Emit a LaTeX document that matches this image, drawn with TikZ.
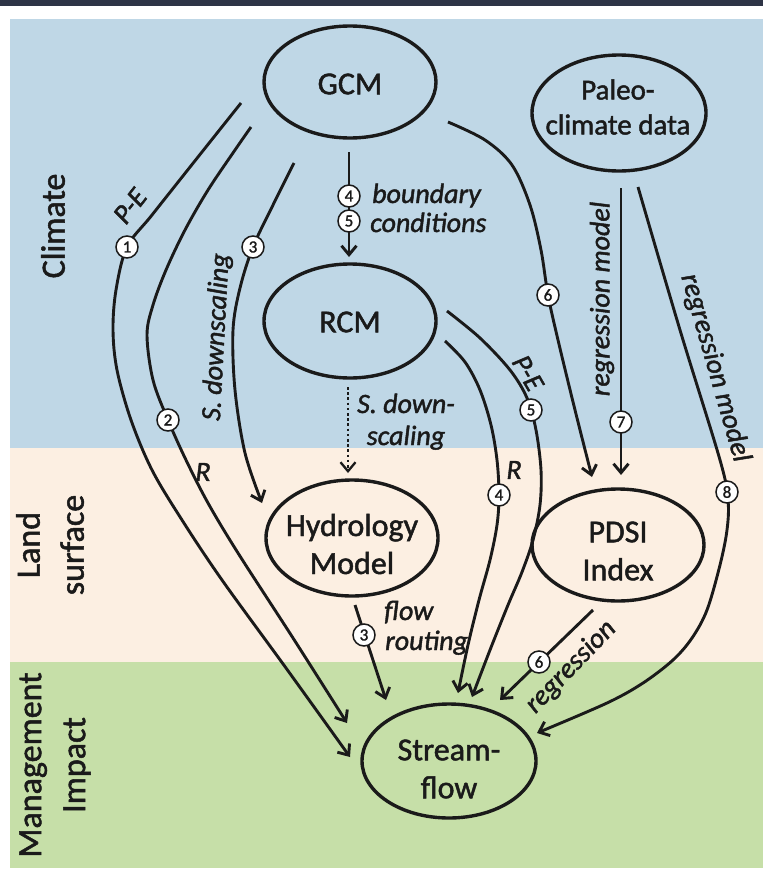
\documentclass[tikz,border=0pt]{standalone}
\usepackage{fontspec}
\setmainfont{Carlito}[UprightFeatures={FakeBold=1.5},ItalicFeatures={FakeBold=1.5}]
\usetikzlibrary{arrows.meta,calc,shapes.geometric}
\definecolor{topbar}{HTML}{2E3446}
\definecolor{climblue}{HTML}{BFD7E6}
\definecolor{landbeige}{HTML}{FCEFE2}
\definecolor{mgmtgreen}{HTML}{C6DFA8}
\definecolor{ink}{HTML}{1A1A1A}
\tikzset{
 ell/.style={ellipse, draw=ink, line width=3.4pt, inner sep=0pt},
 lbl/.style={align=center, inner sep=0pt, text=ink, font=\fontsize{32}{38}\selectfont},
 arr/.style={draw=ink, line width=2.9pt, -{Straight Barb[length=9pt,width=15pt]}},
 num/.style={circle, draw=ink, line width=1.5pt, fill=white, minimum size=22pt, inner sep=0pt, text=ink, font=\fontsize{17}{17}\selectfont},
 elab/.style={font=\fontsize{28}{32}\selectfont\itshape, inner sep=0pt, text=ink},
 side/.style={font=\fontsize{34}{44}\selectfont, align=center, rotate=90, inner sep=0pt, text=ink},
}
\begin{document}
\begin{tikzpicture}[x=1pt,y=-1pt]
\useasboundingbox (0,0) rectangle (763,870);
\fill[white] (0,0) rectangle (763,870);
\fill[topbar] (0,0) rectangle (763,5.5);
\fill[climblue] (10,19) rectangle (763,448);
\fill[landbeige] (10,448) rectangle (763,662);
\fill[mgmtgreen] (10,662) rectangle (763,868);

% side labels
\node[side] (sClim) at (53,226) {Climate};
\node[side] (sLand) at (50,545) {Land\\surface};
\node[side] (sMgmt) at (55,765) {Management\\Impact};

% ellipses
\node[ell, minimum width=172pt, minimum height=112pt] (GCM) at (350,82) {};
\node[ell, minimum width=174pt, minimum height=116pt] (Paleo) at (619,113) {};
\node[ell, minimum width=172pt, minimum height=114pt] (RCM) at (350,321) {};
\node[ell, minimum width=172pt, minimum height=116pt] (Hyd) at (352,538) {};
\node[ell, minimum width=172pt, minimum height=112pt] (PDSI) at (618,545) {};
\node[ell, minimum width=174pt, minimum height=114pt] (SF) at (449,761) {};

\node[lbl] (GCMt) at (350,84) {GCM};
\node[lbl, font=\fontsize{29}{35}\selectfont] (Paleot) at (618,107) {Paleo-\\climate data};
\node[lbl] (RCMt) at (350,322) {RCM};
\node[lbl] (Hydt) at (352,544) {Hydrology\\Model};
\node[lbl] (PDSIt) at (618,551) {PDSI\\Index};
\node[lbl] (SFt) at (449,769) {Stream-\\flow};

% connector ends
\coordinate (e1s) at ($(GCM)+(-109,21)$);
\coordinate (e1t) at ($(SF)+(-99,-4)$);
\coordinate (e2s) at ($(GCM)+(-99,45)$);
\coordinate (e2t) at ($(SF)+(-102,-38)$);
\coordinate (e3s) at ($(GCM)+(-56,81)$);
\coordinate (e3t) at ($(Hyd)+(-90,-35)$);
\coordinate (bcs) at ($(GCM)+(-1,70)$);
\coordinate (bct) at ($(RCM)+(-1,-64)$);
\coordinate (e6s) at ($(GCM)+(98,40)$);
\coordinate (e6t) at ($(PDSI)+(-26,-68)$);
\coordinate (e7s) at ($(Paleo)+(2,75)$);
\coordinate (e7t) at ($(PDSI)+(3,-70)$);
\coordinate (e8s) at ($(Paleo)+(19,74)$);
\coordinate (e8t) at ($(SF)+(88,-28)$);
\coordinate (e5s) at ($(RCM)+(97,-10)$);
\coordinate (e5t) at ($(SF)+(23,-64)$);
\coordinate (e4s) at ($(RCM)+(95,20)$);
\coordinate (e4t) at ($(SF)+(9,-68)$);
\coordinate (dts) at ($(RCM)+(-2,66)$);
\coordinate (dtt) at ($(Hyd)+(-4,-65)$);
\coordinate (frs) at ($(Hyd)+(3,67)$);
\coordinate (frt) at ($(SF)+(-63,-61)$);
\coordinate (rgs) at ($(PDSI)+(-25,65)$);
\coordinate (rgt) at ($(SF)+(51,-61)$);

% connectors
\draw[arr] plot[smooth,tension=0.55] coordinates {(e1s) (198,157) (152,215) (127,247) (116,290) (113,330) (117,370) (131,420) (152,470) (182,520) (222,580) (286,668) (e1t)};
\draw[arr] plot[smooth,tension=0.55] coordinates {(e2s) (235,150) (208,190) (185,230) (166,270) (153,305) (147,335) (153,380) (168,420) (186,460) (208,503) (238,553) (293,638) (e2t)};
\draw[arr] plot[smooth,tension=0.55] coordinates {(e3s) (273,205) (253,247) (240,288) (233,330) (235,390) (245,453) (e3t)};
\draw[arr] (bcs) -- (bct);
\draw[arr] plot[smooth,tension=0.55] coordinates {(e6s) (485,140) (512,165) (530,205) (541,250) (548,295) (558,340) (575,410) (e6t)};
\draw[arr] (e7s) -- (e7t);
\draw[arr] plot[smooth,tension=0.55] coordinates {(e8s) (680,330) (720,460) (728,500) (727,530) (720,565) (707,610) (692,638) (673,660) (643,683) (607,703) (e8t)};
\draw[arr] plot[smooth,tension=0.55] coordinates {(e5s) (480,338) (510,370) (527,398) (536,430) (541,470) (540,505) (533,540) (522,572) (508,605) (490,650) (e5t)};
\draw[arr] plot[smooth,tension=0.55] coordinates {(e4s) (465,362) (480,390) (491,425) (497,460) (499,495) (497,525) (490,560) (479,600) (468,645) (e4t)};
\draw[arr, line width=2.3pt, dash pattern=on 2.6pt off 2.6pt] (dts) -- (dtt);
\draw[arr] (frs) -- (frt);
\draw[arr] (rgs) -- (rgt);

% number circles
\node[num] (n1) at (127,247) {1};
\node[num] (n2) at (168,420) {2};
\node[num] (n3) at (253,247) {3};
\node[num] (n4a) at (349,196) {4};
\node[num] (n5a) at (349,221) {5};
\node[num] (n6a) at (548,295) {6};
\node[num] (n5b) at (531,410) {5};
\node[num] (n4b) at (499,495) {4};
\node[num] (n7) at (621,422) {7};
\node[num] (n8) at (727,492) {8};
\node[num] (n3b) at (364,635) {3};
\node[num] (n6b) at (539,662) {6};

% edge labels
\node[elab, rotate=52] (lPE1) at (130,206) {P-E};
\node[elab] (lR2) at (203,472) {R};
\node[elab, rotate=87] (lSd) at (217,337) {S. downscaling};
\node[elab, anchor=base west] (lbd) at (372,203) {boundary};
\node[elab, anchor=base west] (lcd) at (370,232) {conditions};
\node[elab, anchor=base] (lsd1) at (406,413) {S. down-};
\node[elab, anchor=base] (lsd2) at (406,445) {scaling};
\node[elab] (lR4) at (514,470) {R};
\node[elab, rotate=-60] (lPE5) at (528,373) {P-E};
\node[elab, rotate=90] (lrm7) at (602,299) {regression model};
\node[elab, rotate=-74] (lrm8) at (715,368) {regression model};
\node[elab, anchor=base west] (lfl) at (384,620) {flow};
\node[elab, anchor=base west] (lrt) at (385,650) {routing};
\node[elab, rotate=46] (lrg) at (571,667) {regression};
\end{tikzpicture}
\end{document}
